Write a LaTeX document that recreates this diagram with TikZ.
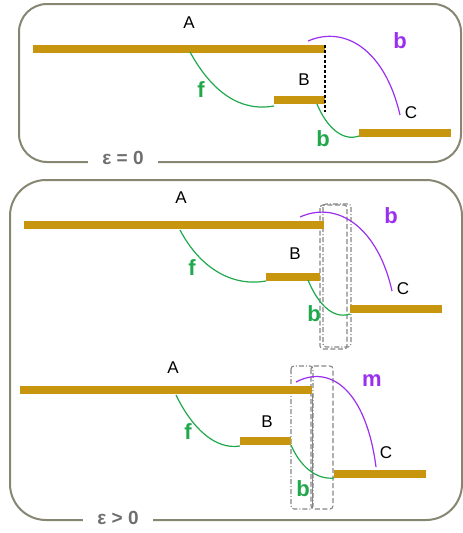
\documentclass[tikz,border=0pt]{standalone}
\usepackage{fontspec}
\setmainfont{Liberation Sans}
\begin{document}
\begin{tikzpicture}[x=1pt,y=-1pt,
  bar/.style={line width=8pt,draw=barcol},
  frame/.style={draw=framecol,line width=2pt,rounded corners=28pt},
  fcurve/.style={draw=greencol,line width=1.2pt},
  pcurve/.style={draw=purplecol,line width=1.2pt},
  lbl/.style={font=\fontsize{17}{17}\selectfont,text=black,inner sep=0pt},
  glbl/.style={font=\fontsize{22}{22}\selectfont\bfseries,text=greencol,inner sep=0pt},
  plbl/.style={font=\fontsize{22}{22}\selectfont\bfseries,text=purplecol,inner sep=0pt},
  eps/.style={font=\fontsize{19}{19}\selectfont\bfseries,text=epscol,fill=white,inner xsep=14pt,inner ysep=4pt},
  boxa/.style={draw=boxcol,line width=1.1pt,dash pattern=on 5pt off 2.5pt,rounded corners=3pt},
  boxb/.style={draw=boxcol,line width=1.1pt,dash pattern=on 5pt off 2pt on 1pt off 2pt,rounded corners=3pt}
]
\definecolor{barcol}{HTML}{C8960E}
\definecolor{greencol}{HTML}{1FA84C}
\definecolor{purplecol}{HTML}{9B2FF0}
\definecolor{framecol}{HTML}{868672}
\definecolor{epscol}{HTML}{6E6E6E}
\definecolor{boxcol}{HTML}{858585}
\useasboundingbox (0,0) rectangle (463,533);

% ---------- panel 1 ----------
\draw[frame] (19,4) rectangle (461,162);
\node[eps] (e0) at (123,158) {ε = 0};

\coordinate (A1l) at (33,49);  \coordinate (A1r) at (325,49);
\coordinate (B1l) at (274,100); \coordinate (B1r) at (325,100);
\coordinate (C1l) at (359,133); \coordinate (C1r) at (451,133);
\draw[bar] (A1l) -- (A1r);
\draw[bar] (B1l) -- (B1r);
\draw[bar] (C1l) -- (C1r);
\draw[black,line width=1.2pt,dash pattern=on 2.5pt off 2.5pt] (325,45) -- (325,112);
\node[lbl] (lA1) at (189,23) {A};
\node[lbl] (lB1) at (304,80) {B};
\node[lbl] (lC1) at (411,113) {C};
\coordinate (f1s) at (190,52); \coordinate (f1e) at (274,106);
\draw[fcurve] (f1s) .. controls (212,92) and (240,112) .. (f1e);
\coordinate (g1s) at (317,104); \coordinate (g1e) at (359,136);
\draw[fcurve] (g1s) .. controls (326,126) and (342,142) .. (g1e);
\coordinate (p1s) at (308,41); \coordinate (p1e) at (400,115);
\draw[pcurve] (p1s) .. controls (345,25) and (385,50) .. (p1e);
\node[plbl] (pb1) at (400,41) {b};
\node[glbl] (gf1) at (201,90) {f};
\node[glbl] (gb1) at (323,139) {b};

% ---------- panel 2 ----------
\draw[frame,rounded corners=36pt] (10,180) rectangle (462,520);
\node[eps] (e1) at (118,518) {ε > 0};

% sub-diagram a
\coordinate (A2l) at (24,225);  \coordinate (A2r) at (324,225);
\coordinate (B2l) at (266,277); \coordinate (B2r) at (320,277);
\coordinate (C2l) at (350,309); \coordinate (C2r) at (442,309);
\draw[boxa] (320,205) rectangle (347,349);
\draw[boxb] (323,204) rectangle (351,347);
\draw[bar] (A2l) -- (A2r);
\draw[bar] (B2l) -- (B2r);
\draw[bar] (C2l) -- (C2r);
\node[lbl] (lA2) at (181,198) {A};
\node[lbl] (lB2) at (295,254) {B};
\node[lbl] (lC2) at (403,289) {C};
\coordinate (f2s) at (180,230); \coordinate (f2e) at (266,281);
\draw[fcurve] (f2s) .. controls (200,268) and (232,287) .. (f2e);
\coordinate (g2s) at (308,280); \coordinate (g2e) at (350,314);
\draw[fcurve] (g2s) .. controls (317,302) and (332,320) .. (g2e);
\coordinate (p2s) at (300,217); \coordinate (p2e) at (392,291);
\draw[pcurve] (p2s) .. controls (338,200) and (378,228) .. (p2e);
\node[plbl] (pb2) at (391,216) {b};
\node[glbl] (gf2) at (192,268) {f};
\node[glbl] (gb2) at (314,314) {b};

% sub-diagram b
\coordinate (A3l) at (20,390);  \coordinate (A3r) at (312,390);
\coordinate (B3l) at (240,441); \coordinate (B3r) at (291,441);
\coordinate (C3l) at (334,474); \coordinate (C3r) at (426,474);
\draw[boxb] (291,366) rectangle (313,509);
\draw[boxa] (311,366) rectangle (333,509);
\draw[boxcol,line width=1pt] (312,394) -- (312,508);
\draw[bar] (A3l) -- (A3r);
\draw[bar] (B3l) -- (B3r);
\draw[bar] (C3l) -- (C3r);
\node[lbl] (lA3) at (173,368) {A};
\node[lbl] (lB3) at (267,422) {B};
\node[lbl] (lC3) at (386,453) {C};
\coordinate (f3s) at (176,395); \coordinate (f3e) at (240,446);
\draw[fcurve] (f3s) .. controls (192,428) and (215,450) .. (f3e);
\coordinate (g3s) at (291,445); \coordinate (g3e) at (334,478);
\draw[fcurve] (g3s) .. controls (300,466) and (316,480) .. (g3e);
\coordinate (p3s) at (296,382); \coordinate (p3e) at (376,467);
\draw[pcurve] (p3s) .. controls (330,364) and (366,390) .. (p3e);
\node[plbl] (pm3) at (372,381) {m};
\node[glbl] (gf3) at (188,432) {f};
\node[glbl] (gb3) at (303,489) {b};
\end{tikzpicture}
\end{document}
